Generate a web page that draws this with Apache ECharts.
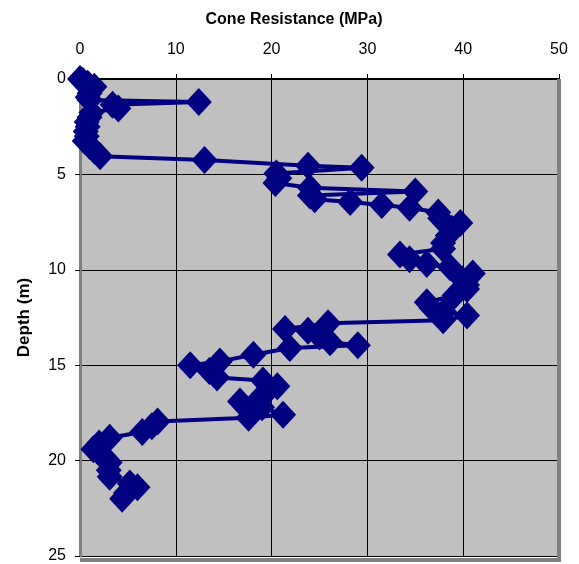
<!DOCTYPE html>
<html>
<head>
<meta charset="utf-8">
<script src="https://cdn.jsdelivr.net/npm/echarts@6/dist/echarts.min.js"></script>
<style>html,body{margin:0;padding:0;background:#fff;}#c{width:579px;height:564px;}</style>
</head>
<body>
<div id="c"></div>
<script>
var depths = [0.0,0.1,0.25,0.4,0.55,0.75,0.95,1.1,1.2,1.35,1.55,1.75,2.0,2.25,2.5,2.75,3.0,3.25,3.5,3.75,4.05,
  4.25,4.55,4.65,4.95,5.2,5.45,5.7,5.9,6.1,6.3,6.45,6.6,6.75,7.0,7.3,7.55,7.85,8.2,8.6,8.9,
  9.2,9.45,9.7,9.85,10.2,10.5,10.8,11.0,11.35,11.7,12.0,12.2,12.4,12.65,12.8,13.1,13.2,13.5,13.8,13.95,
  14.1,14.45,14.8,15.0,15.3,15.65,15.8,16.1,16.4,16.7,16.9,17.2,17.6,17.75,17.95,18.2,18.5,18.8,19.1,19.4,
  19.7,20.1,20.5,20.85,21.2,21.4,21.7,22.0];
var resistance = [0.0,0.3,0.8,1.5,1.2,1.0,0.8,1.0,12.4,3.4,4.0,1.2,1.0,0.7,0.8,0.6,0.7,0.5,1.0,1.5,2.1,
  13.0,23.8,29.4,20.5,20.8,20.4,24.0,35.0,24.0,24.5,28.2,31.5,34.4,37.4,37.6,39.7,38.8,38.4,37.9,37.9,
  33.4,34.4,36.2,38.6,41.0,39.9,40.4,40.4,39.1,36.2,36.7,38.0,40.4,37.9,25.9,21.4,23.8,25.0,26.1,29.0,
  21.9,18.1,14.6,11.5,13.5,14.3,19.1,20.6,19.5,18.8,16.7,19.0,21.2,17.6,8.1,7.5,6.5,3.1,2.0,1.4,
  2.2,3.1,3.0,3.1,5.2,6.0,4.8,4.4];
var xTitle = 'Cone Resistance (MPa)';
var yTitle = 'Depth (m)';

var data = depths.map(function(d, i){ return [resistance[i], d]; });
var font = 'Liberation Sans, Arial, sans-serif';
var chart = echarts.init(document.getElementById('c'));
chart.setOption({
  animation: false,
  title: { text: xTitle, left: 289, top: 7, textAlign: 'center',
    textStyle: { fontFamily: font, fontSize: 16, fontWeight: 'bold', color: '#000' } },
  grid: { left: 80, right: 20, top: 79, bottom: 4, show: true, backgroundColor: '#c0c0c0',
    borderColor: '#808080', borderWidth: 0 },
  xAxis: { type: 'value', position: 'top', min: 0, max: 50, interval: 10,
    axisLine: { show: true, lineStyle: { color: '#000', width: 2 } },
    axisTick: { show: true, inside: false, length: 5, lineStyle: { color: '#000' } },
    axisLabel: { fontFamily: font, fontSize: 16, color: '#000', margin: 21 },
    splitLine: { show: true, lineStyle: { color: '#000', width: 1 } } },
  yAxis: { type: 'value', inverse: true, min: 0, max: 25, interval: 5,
    name: yTitle, nameLocation: 'middle', nameGap: 47,
    nameTextStyle: { fontFamily: font, fontSize: 17, fontWeight: 'bold', color: '#000' },
    axisLine: { show: true, lineStyle: { color: '#808080', width: 3 } },
    axisTick: { show: true, length: 5, lineStyle: { color: '#000' } },
    axisLabel: { fontFamily: font, fontSize: 16, color: '#000', margin: 14 },
    splitLine: { show: true, lineStyle: { color: '#000', width: 1 } } },
  graphic: [
    { type: 'line', shape: { x1: 80, y1: 560, x2: 560, y2: 560 }, style: { stroke: '#808080', lineWidth: 4 }, z: 5 },
    { type: 'line', shape: { x1: 559, y1: 79, x2: 559, y2: 562 }, style: { stroke: '#808080', lineWidth: 4 }, z: 5 }
  ],
  series: [{
    type: 'line', data: data, symbol: 'diamond', symbolSize: [26, 28],
    lineStyle: { color: '#000080', width: 4 },
    itemStyle: { color: '#000080' }, z: 10
  }]
});
</script>
</body>
</html>
